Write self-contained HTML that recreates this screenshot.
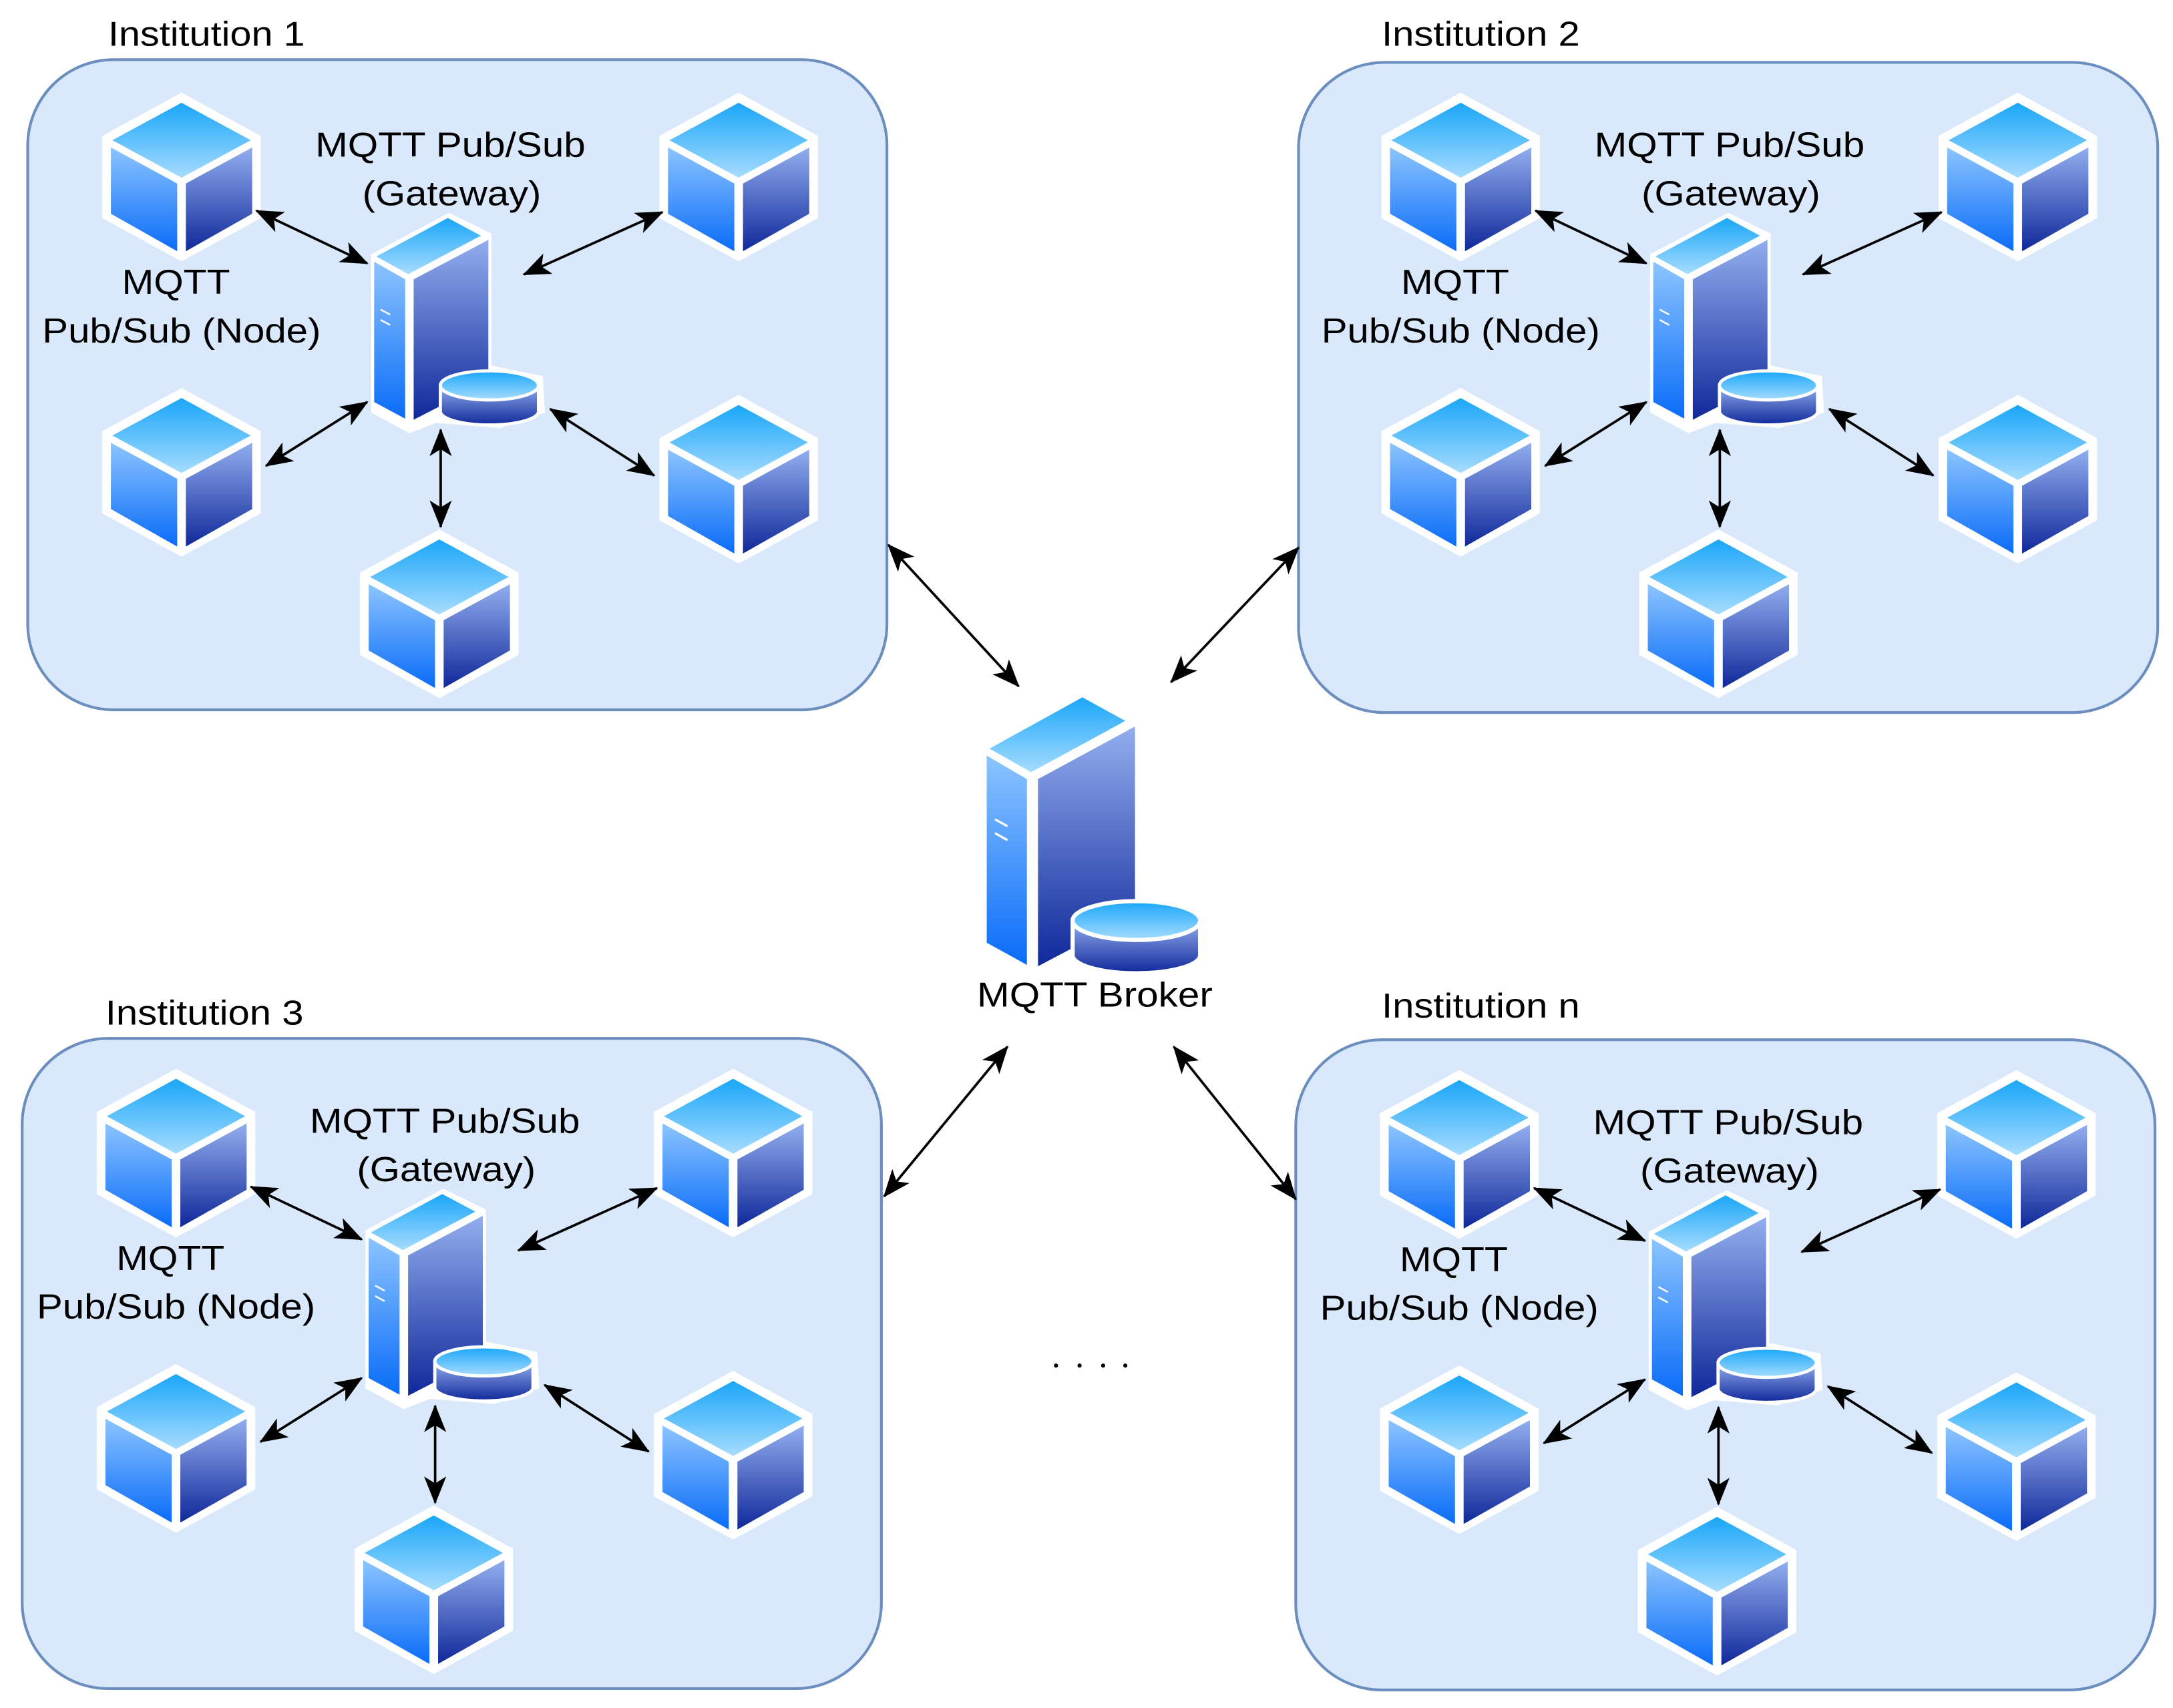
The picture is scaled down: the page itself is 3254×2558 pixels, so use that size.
<!DOCTYPE html>
<html><head><meta charset="utf-8"><style>html,body{margin:0;padding:0;background:#fff}svg{display:block}</style></head>
<body>
<svg width="3254" height="2558" viewBox="0 0 1568 1232" preserveAspectRatio="none" xmlns="http://www.w3.org/2000/svg" font-family="Liberation Sans, Arial, sans-serif">
<defs>
<linearGradient id="gt" x1="0" y1="0" x2="0" y2="1"><stop offset="0" stop-color="#1aa6f8"/><stop offset="1" stop-color="#a6dcff"/></linearGradient>
<linearGradient id="gl" x1="0" y1="0" x2="0" y2="1"><stop offset="0" stop-color="#8cc4ff"/><stop offset="1" stop-color="#0a6cf8"/></linearGradient>
<linearGradient id="gr" x1="0" y1="0" x2="0" y2="1"><stop offset="0" stop-color="#92aeee"/><stop offset="1" stop-color="#10289a"/></linearGradient>
<marker id="ah" viewBox="0 0 20 16" refX="19" refY="8" markerWidth="20" markerHeight="16" markerUnits="userSpaceOnUse" orient="auto-start-reverse"><path d="M0,0 L20,8 L0,16 L5,8 Z" fill="#000"/></marker>
<g id="cube0">
<path d="M0,-54 L55,-24 L55,33 L0,63 L-55,33 L-55,-24 Z" fill="#fff"/>
<path d="M0,-47 L48,-21 L0,5 L-48,-21 Z" fill="url(#gt)"/>
<path d="M-49,-16 L-3,9 L-3,56 L-49,30 Z" fill="url(#gl)"/>
<path d="M49,-16 L3,9 L3,56 L49,30 Z" fill="url(#gr)"/>
</g>
<g id="cube" transform="scale(1.04)"><use href="#cube0"/></g>
<g id="server">
<path d="M709,538 L782,498 L822,518 L822,645 L870,655 L872,690 L830,705 L770,700 L745,710 L709,690 Z" fill="#fff"/>
<path d="M714,540 L781,503 L812,520 L744,557 Z" fill="url(#gt)"/>
<path d="M712,545 L741,562 L741,696 L712,680 Z" fill="url(#gl)"/>
<path d="M749,562 L819,524 L819,660 L749,697 Z" fill="url(#gr)"/>
<path d="M718,591 L727,596 M718,601 L727,606" stroke="#fff" stroke-width="1.6"/>
<path d="M774,664 L774,689 A46,13 0 0 0 866,689 L866,664 Z" fill="url(#gr)" stroke="#fff" stroke-width="3"/>
<ellipse cx="820" cy="664" rx="46" ry="14" fill="url(#gt)" stroke="#fff" stroke-width="3"/>
</g>
<rect id="box" x="0" y="0" width="620" height="469" rx="62" ry="62" fill="#dae8fc" stroke="#6c8ebf" stroke-width="2"/>
<g id="inst">
<use href="#cube" x="111" y="80"/>
<use href="#cube" x="513" y="80"/>
<use href="#cube" x="111" y="293"/>
<use href="#cube" x="513" y="298"/>
<use href="#cube" x="297" y="395"/>
<g transform="translate(250,112) scale(0.77,0.75) translate(-712,-500)"><use href="#server"/></g>
<g stroke="#000" stroke-width="1.8" fill="none" marker-start="url(#ah)" marker-end="url(#ah)">
<line x1="165" y1="109" x2="245" y2="147"/>
<line x1="358" y1="155" x2="458" y2="110"/>
<line x1="172" y1="293" x2="245" y2="247"/>
<line x1="377" y1="252" x2="452" y2="300"/>
<line x1="298" y1="267" x2="298" y2="337"/>
</g>
<g font-size="25" fill="#000" text-anchor="middle">
<text x="305" y="70" textLength="195" lengthAdjust="spacingAndGlyphs">MQTT Pub/Sub</text>
<text x="306" y="105" textLength="129" lengthAdjust="spacingAndGlyphs">(Gateway)</text>
<text x="107" y="169" textLength="78" lengthAdjust="spacingAndGlyphs">MQTT</text>
<text x="111" y="204" textLength="201" lengthAdjust="spacingAndGlyphs">Pub/Sub (Node)</text>
</g>
</g>
</defs>
<use href="#box" x="20" y="43"/>
<use href="#box" x="937" y="45"/>
<use href="#box" x="16" y="749"/>
<use href="#box" x="935" y="750"/>
<use href="#inst" x="20" y="43"/>
<use href="#inst" x="943" y="43"/>
<use href="#inst" x="16" y="747"/>
<use href="#inst" x="942" y="748"/>
<g font-size="25" fill="#000">
<text x="78" y="33" textLength="142" lengthAdjust="spacingAndGlyphs">Institution 1</text>
<text x="997" y="33" textLength="143" lengthAdjust="spacingAndGlyphs">Institution 2</text>
<text x="76" y="739" textLength="143" lengthAdjust="spacingAndGlyphs">Institution 3</text>
<text x="997" y="734" textLength="143" lengthAdjust="spacingAndGlyphs">Institution n</text>
<text x="705" y="726" textLength="170" lengthAdjust="spacingAndGlyphs">MQTT Broker</text>
</g>
<use href="#server"/>
<g stroke="#000" stroke-width="1.8" fill="none" marker-start="url(#ah)" marker-end="url(#ah)">
<line x1="641" y1="393" x2="735" y2="495"/>
<line x1="937" y1="395" x2="845" y2="492"/>
<line x1="638" y1="863" x2="727" y2="755"/>
<line x1="935" y1="865" x2="847" y2="755"/>
</g>
<g fill="#000"><circle cx="762" cy="985" r="1.5"/><circle cx="779" cy="985" r="1.5"/><circle cx="796" cy="985" r="1.5"/><circle cx="812" cy="985" r="1.5"/></g>
</svg>
</body></html>
